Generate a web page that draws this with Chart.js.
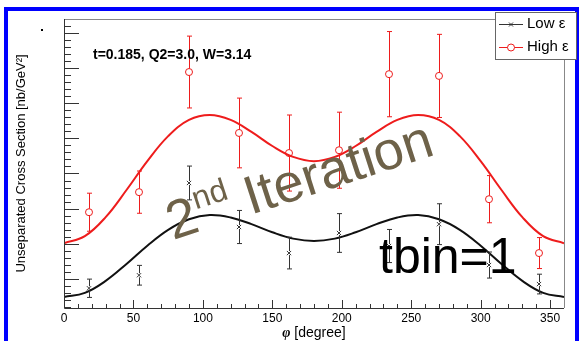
<!DOCTYPE html>
<html>
<head>
<meta charset="utf-8">
<script src="https://cdn.jsdelivr.net/npm/chart.js@4"></script>
<style>
html, body { margin: 0; padding: 0; background: #fff; }
</style>
</head>
<body>
<canvas id="c" width="580" height="341"></canvas>
<script>
// measured points (phi in degrees)
var phiPoints = [18, 54, 90, 126, 162, 198, 234, 270, 306, 342];
var lowEps  = [0.74, 1.11, 3.73, 2.48, 1.74, 2.31, 1.94, 2.56, 1.40, 0.86];
var lowErr  = [0.26, 0.28, 0.48, 0.47, 0.45, 0.55, 0.47, 0.58, 0.37, 0.28];
var highEps = [2.90, 3.47, 6.88, 5.15, 4.58, 4.66, 6.82, 6.77, 3.27, 1.74];
var highErr = [0.54, 0.60, 1.02, 0.99, 1.08, 1.08, 1.21, 1.18, 0.67, 0.44];

// fit curves every 15 degrees
var curvePhi = [0, 15, 30, 45, 60, 75, 90, 105, 120, 135, 150, 165, 180,
                195, 210, 225, 240, 255, 270, 285, 300, 315, 330, 345, 360];
var highFit = [2.02, 2.22, 2.76, 3.53, 4.35, 5.06, 5.52, 5.66, 5.52, 5.18, 4.78, 4.47, 4.35,
               4.47, 4.78, 5.18, 5.52, 5.66, 5.52, 5.06, 4.35, 3.53, 2.76, 2.22, 2.02];
var lowFit  = [0.49, 0.61, 0.95, 1.43, 1.95, 2.40, 2.70, 2.82, 2.75, 2.56, 2.33, 2.15, 2.08,
               2.15, 2.33, 2.56, 2.75, 2.82, 2.70, 2.40, 1.95, 1.43, 0.95, 0.61, 0.49];

var RED = '#ee1c1c';

function pts(xs, ys) {
  return xs.map(function (x, i) { return { x: x, y: ys[i] }; });
}

// white page + blue frame
var framePlugin = {
  id: 'frame',
  beforeDraw: function (chart) {
    var ctx = chart.ctx;
    ctx.save();
    ctx.fillStyle = '#fff';
    ctx.fillRect(0, 0, chart.width, chart.height);
    ctx.fillStyle = '#0000ff';
    ctx.fillRect(4, 7, 575, 4);
    ctx.fillRect(4, 7, 4, 334);
    ctx.fillRect(575, 7, 4, 334);
    ctx.fillStyle = '#000';
    ctx.fillRect(41, 29, 2, 2);
    ctx.restore();
  }
};

// error bars drawn through the scales
var errorBars = {
  id: 'errorBars',
  afterDatasetsDraw: function (chart) {
    var ctx = chart.ctx, xs = chart.scales.x, ys = chart.scales.y;
    var sets = [[lowEps, lowErr, '#333', 2], [highEps, highErr, RED, 3.5]];
    ctx.save();
    ctx.lineWidth = 1;
    sets.forEach(function (s) {
      ctx.strokeStyle = s[2];
      phiPoints.forEach(function (p, i) {
        var x = Math.round(xs.getPixelForValue(p)) + 0.5;
        var yc = ys.getPixelForValue(s[0][i]);
        var y1 = ys.getPixelForValue(s[0][i] + s[1][i]);
        var y2 = ys.getPixelForValue(s[0][i] - s[1][i]);
        ctx.beginPath();
        ctx.moveTo(x, y1); ctx.lineTo(x, yc - s[3]);
        ctx.moveTo(x, yc + s[3]); ctx.lineTo(x, y2);
        ctx.moveTo(x - 2.5, y1); ctx.lineTo(x + 2.5, y1);
        ctx.moveTo(x - 2.5, y2); ctx.lineTo(x + 2.5, y2);
        ctx.stroke();
      });
    });
    ctx.restore();
  }
};

// ticks, box, legend and the overlay texts
var decor = {
  id: 'decor',
  afterDraw: function (chart) {
    var ctx = chart.ctx, xs = chart.scales.x, ys = chart.scales.y, a = chart.chartArea;
    ctx.save();
    // box
    ctx.lineWidth = 1;
    ctx.strokeStyle = '#888';
    ctx.beginPath();
    ctx.moveTo(a.left, a.top + 0.5); ctx.lineTo(a.right + 0.5, a.top + 0.5); ctx.lineTo(a.right + 0.5, a.bottom);
    ctx.stroke();
    ctx.strokeStyle = '#333';
    ctx.beginPath();
    ctx.moveTo(a.left + 0.5, a.top); ctx.lineTo(a.left + 0.5, a.bottom + 0.5); ctx.lineTo(a.right, a.bottom + 0.5);
    ctx.stroke();
    // y ticks
    ctx.beginPath();
    for (var k = 1; k <= 42; k++) {
      var v = k * 0.2;
      if (v < ys.min || v > ys.max) continue;
      var y = Math.round(ys.getPixelForValue(v)) + 0.5;
      var len = (k % 5 === 0) ? 15 : 7;
      ctx.moveTo(a.left, y); ctx.lineTo(a.left + len, y);
    }
    // x ticks
    for (var d = 10; d < 360; d += 10) {
      var x = Math.round(xs.getPixelForValue(d)) + 0.5;
      var l2 = (d % 50 === 0) ? 8 : 4;
      ctx.moveTo(x, a.bottom); ctx.lineTo(x, a.bottom - l2);
    }
    ctx.stroke();

    // x title with italic phi
    ctx.fillStyle = '#000';
    ctx.textBaseline = 'alphabetic';
    ctx.font = 'italic bold 14px "Liberation Serif"';
    var w1 = ctx.measureText('φ').width;
    ctx.font = '14px "Liberation Sans"';
    var w2 = ctx.measureText(' [degree]').width;
    var x0 = (a.left + a.right) / 2 - (w1 + w2) / 2;
    ctx.font = 'italic bold 14px "Liberation Serif"';
    ctx.fillText('φ', x0, 337);
    ctx.font = '14px "Liberation Sans"';
    ctx.fillText(' [degree]', x0 + w1, 337);

    // kinematics label
    ctx.font = 'bold 14px "Liberation Sans"';
    ctx.fillText('t=0.185, Q2=3.0, W=3.14', 93, 59);

    // legend
    ctx.fillStyle = '#fff';
    ctx.fillRect(495, 12, 81, 47);
    ctx.strokeStyle = '#666';
    ctx.strokeRect(495.5, 12.5, 81, 47);
    ctx.lineWidth = 1;
    ctx.strokeStyle = '#333';
    ctx.beginPath();
    ctx.moveTo(499, 24.5); ctx.lineTo(523, 24.5);
    ctx.moveTo(509, 22.5); ctx.lineTo(513, 26.5);
    ctx.moveTo(513, 22.5); ctx.lineTo(509, 26.5);
    ctx.stroke();
    ctx.strokeStyle = RED;
    ctx.beginPath();
    ctx.moveTo(499, 47.5); ctx.lineTo(507.5, 47.5);
    ctx.moveTo(514.5, 47.5); ctx.lineTo(523, 47.5);
    ctx.stroke();
    ctx.beginPath();
    ctx.arc(511, 47.5, 3.5, 0, Math.PI * 2);
    ctx.stroke();
    ctx.fillStyle = '#000';
    ctx.font = '15px "Liberation Sans"';
    ctx.textBaseline = 'middle';
    ctx.fillText('Low ε', 527, 24);
    ctx.fillText('High ε', 527, 47);

    // tbin label
    ctx.textBaseline = 'alphabetic';
    ctx.font = '50px "Liberation Sans"';
    ctx.fillText('tbin=1', 379, 273);

    // rotated iteration stamp
    ctx.translate(173, 240);
    ctx.rotate(-18 * Math.PI / 180);
    ctx.fillStyle = '#6e6249';
    ctx.font = '54px "Liberation Sans"';
    ctx.fillText('2', 0, 0);
    var w = ctx.measureText('2').width;
    ctx.font = '32px "Liberation Sans"';
    ctx.fillText('nd', w + 1, -22);
    w += 1 + ctx.measureText('nd').width;
    ctx.font = '54px "Liberation Sans"';
    ctx.fillText(' Iteration', w, 0);
    ctx.restore();
  }
};

var chart = new Chart(document.getElementById('c').getContext('2d'), {
  type: 'scatter',
  data: {
    datasets: [{
      label: 'High fit',
      data: pts(curvePhi, highFit),
      showLine: true,
      borderColor: RED,
      borderWidth: 2,
      pointRadius: 0,
      tension: 0.4
    }, {
      label: 'Low fit',
      data: pts(curvePhi, lowFit),
      showLine: true,
      borderColor: '#111',
      borderWidth: 2,
      pointRadius: 0,
      tension: 0.4
    }, {
      label: 'Low ε',
      data: pts(phiPoints, lowEps),
      pointStyle: 'crossRot',
      pointRadius: 3,
      borderColor: '#333',
      borderWidth: 1
    }, {
      label: 'High ε',
      data: pts(phiPoints, highEps),
      pointStyle: 'circle',
      pointRadius: 3.5,
      backgroundColor: 'rgba(0,0,0,0)',
      borderColor: RED,
      borderWidth: 1
    }]
  },
  options: {
    responsive: false,
    animation: false,
    layout: { padding: { left: 10, top: 19, right: 16, bottom: 0 } },
    plugins: { legend: { display: false }, tooltip: { enabled: false } },
    scales: {
      x: {
        type: 'linear',
        min: 0,
        max: 360,
        grid: { display: false, drawTicks: false },
        border: { display: false },
        ticks: {
          stepSize: 50,
          includeBounds: false,
          maxRotation: 0,
          padding: 3,
          color: '#000',
          font: { family: 'Liberation Sans', size: 12 }
        },
        afterFit: function (s) { s.height = 33; }
      },
      y: {
        min: 0.18,
        max: 8.386,
        grid: { display: false, drawTicks: false },
        border: { display: false },
        ticks: { display: false },
        title: {
          display: true,
          text: 'Unseparated Cross Section [nb/GeV²]',
          color: '#000',
          font: { family: 'Liberation Sans', size: 13 },
          padding: { top: 4, bottom: 4 }
        },
        afterFit: function (s) { s.width = 54; }
      }
    }
  },
  plugins: [framePlugin, errorBars, decor]
});
</script>
</body>
</html>
